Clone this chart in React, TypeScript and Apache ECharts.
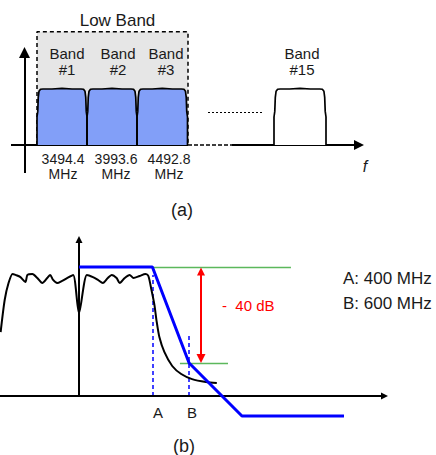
import React, { useEffect, useRef } from "react";
import * as echarts from "echarts";

const FONT = "'Liberation Sans', Arial, Helvetica, sans-serif";

// ---------- Panel (a): band plan (x: band-width units, y: relative amplitude) ----------
const bandLabels = ["Band\n#1", "Band\n#2", "Band\n#3", "Band\n#15"];
const bandStarts = [0.25, 1.25, 2.25, 4.99];
const bandEnds = [1.25, 2.25, 3.26, 6.03];
const lowBandCount = 3;
// normalised passband shape of one band filter
const bandProfileX = [0, 0, 0.015, 0.025, 0.04, 0.07, 0.12, 0.3, 0.5, 0.7, 0.88, 0.93, 0.96, 0.975, 0.985, 1, 1];
const bandProfileY = [0, 0.5, 0.6, 0.85, 0.96, 0.995, 1.0, 1.0, 1.01, 1.0, 1.0, 0.995, 0.96, 0.85, 0.6, 0.5, 0];
const centreFreqValues = ["3494.4", "3993.6", "4492.8"];
const centreFreqUnit = "MHz";
const lowBandStart = 0.25;
const lowBandEnd = 3.27;
const lowBandTop = 2.02;

// ---------- Panel (b): filter response (x: MHz, y: dB) ----------
const filterMHz = [-427, -405, -384, -362, -346, -319, -292, -281, -254, -227, -200, -173, -157, -141, -119, -92, -65, -32, 0, 43, 76, 103, 130, 157, 178, 205, 222, 249, 276, 297, 330, 362, 378, 395, 411, 422, 438, 465, 508, 557, 616, 692, 751];
const filterDb = [-27.1, -13.75, -6.7, -2.9, -3.3, -4.2, -6.25, -3.3, -2.9, -4.6, -6.7, -4.6, -3.3, -5.4, -6.7, -5.8, -4.6, -3.3, -19.2, -3.3, -4.2, -5.4, -6.7, -4.6, -3.3, -4.6, -6.7, -4.6, -3.3, -4.6, -3.75, -2.9, -3.75, -9.6, -15.8, -22.1, -29.2, -35.4, -41.25, -44.6, -46.7, -47.9, -48.3];
const maskMHz = [0, 400, 600, 888, 1444];
const maskDb = [0, 0, -40, -62.1, -62.1];
const markerNames = ["A", "B"];
const markerMHz = [400, 600];
const markerTopDb = [-3.3, -28.3];
const rejectionDb = -40;
const rejectionLabel = "-  40 dB";
const legendLines = ["A: 400 MHz", "B: 600 MHz"];
const refTopMHz = [400, 1155];
const refBottomMHz = [550, 812];
const arrowMHz = 665;
const axisDbB = -53.75;

const pairs = (xs: number[], ys: number[]) => xs.map((x, i) => [x, ys[i]]);

const txt = (text: string, x: number, y: number, size: number, extra: any = {}) => ({
  type: "text",
  x,
  y,
  z: 100,
  silent: true,
  style: {
    text,
    fontFamily: FONT,
    fontSize: size,
    fill: "#1a1a1a",
    align: "center",
    verticalAlign: "middle",
    ...extra,
  },
});

function buildOption(): any {
  const series: any[] = [];
  // Low band dashed box
  series.push({
    type: "line",
    xAxisIndex: 0,
    yAxisIndex: 0,
    symbol: "none",
    silent: true,
    z: 1,
    data: [
      [lowBandStart, 0],
      [lowBandStart, lowBandTop],
      [lowBandEnd, lowBandTop],
      [lowBandEnd, 0],
    ],
    lineStyle: { color: "#000", width: 1.5, type: [4, 3] },
    areaStyle: { color: "#e6e6e6", opacity: 1 },
  });
  // bands
  bandStarts.forEach((s, i) => {
    const w = bandEnds[i] - s;
    series.push({
      type: "line",
      xAxisIndex: 0,
      yAxisIndex: 0,
      symbol: "none",
      silent: true,
      data: bandProfileX.map((px, k) => [s + px * w, bandProfileY[k]]),
      lineStyle: { color: "#000", width: 1.7 },
      areaStyle: { color: i < lowBandCount ? "#829ff8" : "#ffffff", opacity: 1 },
    });
  });
  const seg = (xi: number, data: any[], style: any, symbol: any = "none", symbolSize: any = 0) => ({
    type: "lines",
    coordinateSystem: "cartesian2d",
    xAxisIndex: xi,
    yAxisIndex: xi,
    silent: true,
    symbol,
    symbolSize,
    data: data.map((c) => ({ coords: c })),
    itemStyle: { color: style.color },
    lineStyle: { opacity: 1, curveness: 0, ...style },
  });
  // axes (a)
  series.push(seg(0, [[[0, -0.5], [0, 1.652]]], { color: "#000", width: 2 }, ["none", "triangle"], [9, 11]));
  series.push(seg(0, [[[-0.27, 0], [3.27, 0]]], { color: "#000", width: 2 }));
  series.push(seg(0, [[[3.27, 0], [4.15, 0]]], { color: "#000", width: 1.5, type: [4, 2] }));
  series.push(seg(0, [[[4.15, 0], [6.69, 0]]], { color: "#000", width: 2 }, ["none", "triangle"], [9, 10]));
  series.push(seg(0, [[[3.67, 0.59], [4.75, 0.59]]], { color: "#000", width: 1, type: [2, 2] }));

  // panel (b)
  series.push(
    seg(1, [
      [[refTopMHz[0], 0], [refTopMHz[1], 0]],
      [[refBottomMHz[0], rejectionDb], [refBottomMHz[1], rejectionDb]],
    ], { color: "#5cb85c", width: 1.3 })
  );
  series.push({
    type: "line",
    xAxisIndex: 1,
    yAxisIndex: 1,
    symbol: "none",
    silent: true,
    smooth: 0.25,
    data: pairs(filterMHz, filterDb),
    lineStyle: { color: "#000", width: 2 },
  });
  series.push(
    seg(1, markerMHz.map((m, i) => [[m, axisDbB], [m, markerTopDb[i]]]), { color: "#0000ff", width: 1.5, type: [4, 3] })
  );
  series.push({
    type: "line",
    xAxisIndex: 1,
    yAxisIndex: 1,
    symbol: "none",
    silent: true,
    data: pairs(maskMHz, maskDb),
    lineStyle: { color: "#0000ff", width: 3 },
  });
  series.push(
    seg(1, [[[arrowMHz, -1.875], [arrowMHz, rejectionDb + 1.875]]], { color: "#ff0000", width: 2 }, ["triangle", "triangle"], [8, 9])
  );
  series.push(seg(1, [[[0, axisDbB], [0, 11.46]]], { color: "#000", width: 2 }, ["none", "triangle"], [6, 7]));
  series.push(seg(1, [[[-430.5, axisDbB], [1665, axisDbB]]], { color: "#000", width: 2 }, ["none", "triangle"], [7, 7]));

  const bandLabelX = [67, 118, 166, 302];
  const freqLabelX = [63, 116, 169];
  const graphic: any[] = [
    txt("Low Band", 117.5, 20, 17),
    ...bandLabels.map((t, i) => txt(t, bandLabelX[i], 61, 15, { lineHeight: 16 })),
    ...centreFreqValues.map((t, i) => txt(t, freqLabelX[i], 159, 14)),
    ...centreFreqValues.map((_, i) => txt(centreFreqUnit, freqLabelX[i], 174, 14)),
    txt("f", 365, 166, 16, { fontStyle: "italic" }),
    txt("(a)", 182, 210, 18),
    txt(markerNames[0], 158, 412, 15),
    txt(markerNames[1], 192, 412, 15),
    txt(rejectionLabel, 222, 305, 15, { align: "left", fill: "#ff0000" }),
    txt(legendLines[0], 343, 278, 17, { align: "left" }),
    txt(legendLines[1], 343, 303, 17, { align: "left" }),
    txt("(b)", 184, 446, 18),
  ];

  return {
    animation: false,
    backgroundColor: "#ffffff",
    grid: [
      { left: 0, top: 0, width: 436, height: 200, containLabel: false },
      { left: 0, top: 220, width: 436, height: 235, containLabel: false },
    ],
    xAxis: [
      { gridIndex: 0, type: "value", show: false, min: -0.49, max: 8.23 },
      { gridIndex: 1, type: "value", show: false, min: -430.5, max: 1945.5 },
    ],
    yAxis: [
      { gridIndex: 0, type: "value", show: false, min: -0.982, max: 2.589 },
      { gridIndex: 1, type: "value", show: false, min: -78.333, max: 19.583 },
    ],
    series,
    graphic,
  };
}

export default function App() {
  const ref = useRef<HTMLDivElement>(null);
  useEffect(() => {
    document.body.style.margin = "0";
    const chart = echarts.init(ref.current!, null, { renderer: "svg" });
    chart.setOption(buildOption());
    return () => chart.dispose();
  }, []);
  return (
    <div
      ref={ref}
      style={{ width: 436, height: 455, position: "absolute", left: 0, top: 0, background: "#fff" }}
    />
  );
}
